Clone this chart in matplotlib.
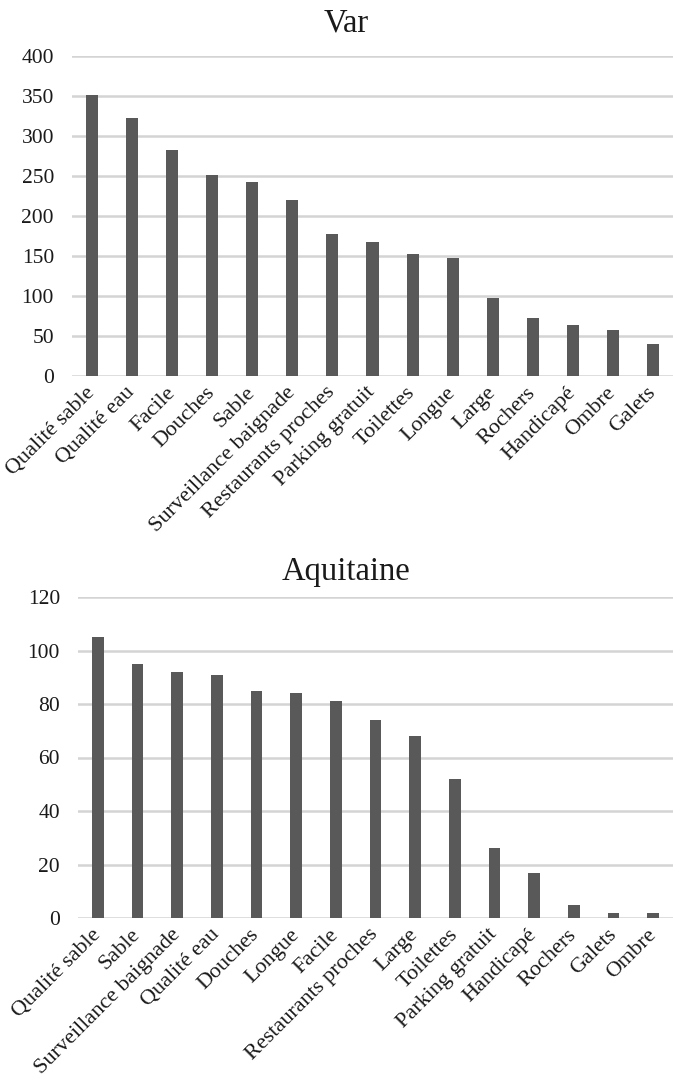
import numpy as np
import matplotlib.pyplot as plt

plt.rcParams['font.family'] = ['Liberation Serif', 'DejaVu Serif']

# Var
var_labels = ['Qualité sable', 'Qualité eau', 'Facile', 'Douches', 'Sable',
              'Surveillance baignade', 'Restaurants proches', 'Parking gratuit',
              'Toilettes', 'Longue', 'Large', 'Rochers', 'Handicapé', 'Ombre', 'Galets']
var_values = [351, 322, 283, 251, 243, 220, 178, 167, 153, 148, 97, 73, 64, 57, 40]

# Aquitaine
aq_labels = ['Qualité sable', 'Sable', 'Surveillance baignade', 'Qualité eau', 'Douches',
             'Longue', 'Facile', 'Restaurants proches', 'Large', 'Toilettes',
             'Parking gratuit', 'Handicapé', 'Rochers', 'Galets', 'Ombre']
aq_values = [105, 95, 92, 91, 85, 84, 81, 74, 68, 52, 26, 17, 5, 2, 2]

W, H = 673, 1084
fig = plt.figure(figsize=(W / 100, H / 100), dpi=100)

bar_col = '#595959'
grid_col = '#d4d4d4'
txt_col = '#1a1a1a'


def draw(ax, labels, values, ymax, step):
    x = np.arange(len(labels))
    ax.bar(x, values, width=0.3, color=bar_col, zorder=3)
    ax.set_xlim(-0.5, len(labels) - 0.5)
    ax.set_ylim(0, ymax)
    ax.set_yticks(np.arange(0, ymax + 1, step))
    ax.yaxis.grid(True, color=grid_col, lw=1.8, zorder=0)
    ax.set_axisbelow(True)
    for s in ax.spines.values():
        s.set_visible(False)
    ax.set_xticks(x)
    ax.set_xticklabels(labels, rotation=45, ha='right', va='center',
                       rotation_mode='anchor', fontsize=16, color=txt_col)
    ax.tick_params(axis='x', length=0, pad=10)
    ax.tick_params(axis='y', length=0, pad=13, labelsize=15.5, labelcolor=txt_col)


ax1 = fig.add_axes([72 / W, 1 - 376 / H, 601 / W, 320 / H])
draw(ax1, var_labels, var_values, 400, 50)
fig.text(346 / W, 1 - 31 / H, 'Var', ha='center', va='baseline', fontsize=23.5, color=txt_col)

ax2 = fig.add_axes([78 / W, 1 - 918 / H, 595 / W, 321 / H])
draw(ax2, aq_labels, aq_values, 120, 20)
fig.text(346 / W, 1 - 580 / H, 'Aquitaine', ha='center', va='baseline', fontsize=23.5, color=txt_col)

plt.savefig('out.png', dpi=100)
